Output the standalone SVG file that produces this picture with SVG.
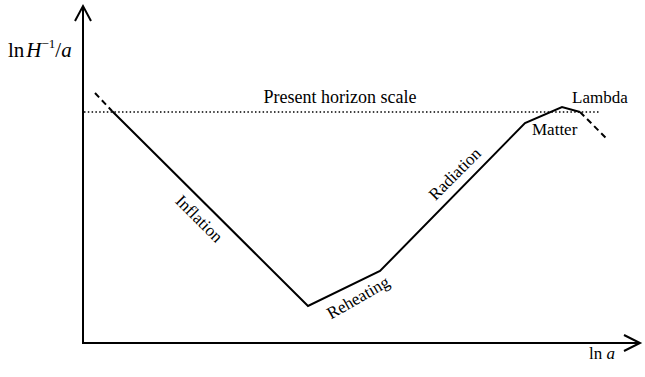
<svg xmlns="http://www.w3.org/2000/svg" width="645" height="377" viewBox="0 0 645 377">
<style>
.ax{stroke:#000;stroke-width:2;fill:none}
.cv{stroke:#000;stroke-width:2;fill:none;stroke-linejoin:miter}
.ds{stroke:#000;stroke-width:2;fill:none;stroke-dasharray:6,4}
.dt{stroke:#000;stroke-width:1.6;fill:none;stroke-dasharray:1.5,2.3}
text{font-family:"Liberation Serif","Times New Roman",serif;fill:#000}
.lb{font-size:17px}
.it{font-style:italic}
</style>
<rect width="645" height="377" fill="#fff"/>
<g id="axes">
<line class="ax" x1="83" y1="6" x2="83" y2="344"/>
<polyline class="ax" points="75,21 83,6 91,21"/>
<line class="ax" x1="82" y1="343" x2="640" y2="343"/>
<polyline class="ax" points="624,335 640,343 624,351"/>
</g>
<g id="horizon">
<line class="dt" x1="84" y1="112" x2="600" y2="112"/>
<text x="340" y="103" text-anchor="middle" style="font-size:18px">Present horizon scale</text>
</g>
<g id="connectors">
<polyline class="ds" points="95,93 112,111"/>
<polyline class="cv" points="112,111 308,306 380,271 525,123 562,107 580,112"/>
<polyline class="ds" points="580,112 607,139"/>
</g>
<g id="labels">
<text style="font-size:21px" x="8" y="57">ln<tspan class="it" dx="2">H</tspan><tspan style="font-size:13px" dy="-9">−1</tspan><tspan dy="9">/</tspan><tspan class="it">a</tspan></text>
<text class="lb" x="589" y="359">ln <tspan class="it">a</tspan></text>
<text class="lb" x="572" y="103">Lambda</text>
<text class="lb" x="532" y="135">Matter</text>
<text class="lb" x="198" y="220" text-anchor="middle" dominant-baseline="middle" transform="rotate(45 198 220)">Inflation</text>
<text class="lb" x="456" y="175" text-anchor="middle" dominant-baseline="middle" transform="rotate(-45 456 175)">Radiation</text>
<text class="lb" x="359" y="299" text-anchor="middle" dominant-baseline="middle" transform="rotate(-30 359 299)">Reheating</text>
</g>
</svg>
